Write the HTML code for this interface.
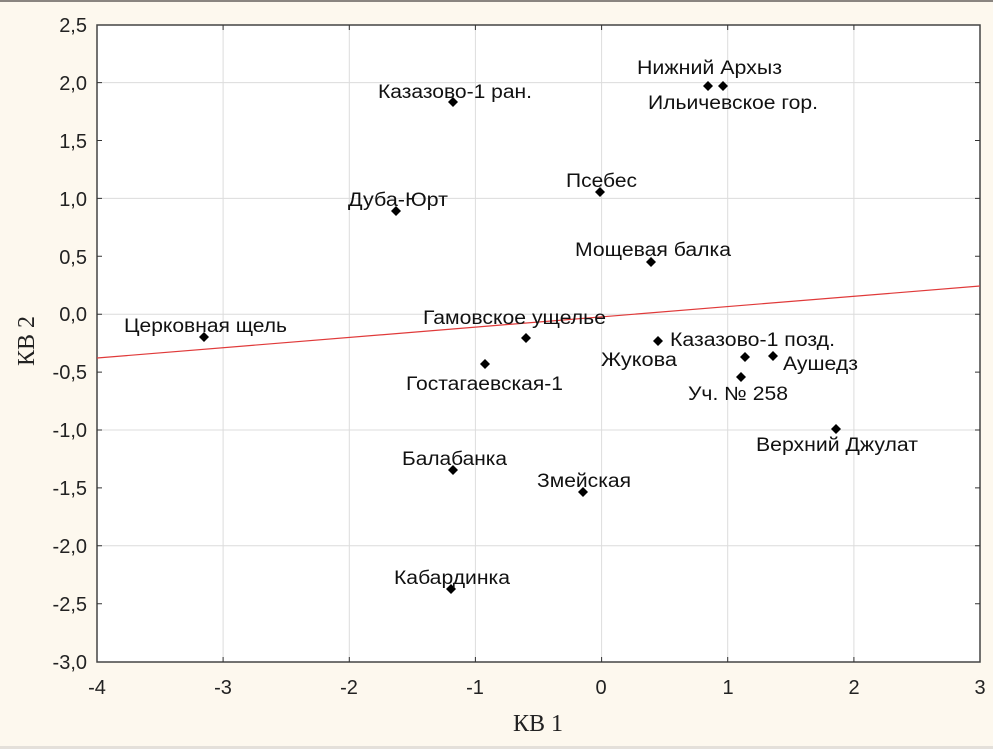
<!DOCTYPE html>
<html><head><meta charset="utf-8"><style>
html,body{margin:0;padding:0;background:#fdf8ee;}
svg{display:block;}
</style></head><body>
<svg width="993" height="749" xmlns="http://www.w3.org/2000/svg" font-family="Liberation Sans, sans-serif">
<rect x="0" y="0" width="993" height="749" fill="#fdf8ee"/>
<rect x="0" y="0" width="993" height="2" fill="#8a8580"/>
<rect x="0" y="746" width="993" height="3" fill="#e4e0da"/>
<rect x="97" y="25" width="883" height="637" fill="#fff"/>
<g stroke="#dcdcdc" stroke-width="1">
<line x1="97" x2="980" y1="82.6" y2="82.6"/><line x1="97" x2="980" y1="198.4" y2="198.4"/>
<line x1="97" x2="980" y1="314.2" y2="314.2"/><line x1="97" x2="980" y1="430" y2="430"/>
<line x1="97" x2="980" y1="545.8" y2="545.8"/>
<line y1="25" y2="662" x1="223.1" x2="223.1"/><line y1="25" y2="662" x1="349.3" x2="349.3"/>
<line y1="25" y2="662" x1="475.4" x2="475.4"/><line y1="25" y2="662" x1="601.6" x2="601.6"/>
<line y1="25" y2="662" x1="727.7" x2="727.7"/><line y1="25" y2="662" x1="853.9" x2="853.9"/>
</g>
<rect x="97" y="25" width="883" height="637" fill="none" stroke="#444" stroke-width="1.5"/>
<line x1="97" y1="358" x2="980" y2="286" stroke="#e03a3a" stroke-width="1.2"/>
<g fill="#222" font-size="20" text-anchor="end">
<text x="87" y="32">2,5</text><text x="87" y="90">2,0</text><text x="87" y="148">1,5</text>
<text x="87" y="206">1,0</text><text x="87" y="264">0,5</text><text x="87" y="321">0,0</text>
<text x="87" y="379">-0,5</text><text x="87" y="437">-1,0</text><text x="87" y="495">-1,5</text>
<text x="87" y="553">-2,0</text><text x="87" y="611">-2,5</text><text x="87" y="669">-3,0</text>
</g>
<g fill="#222" font-size="20" text-anchor="middle">
<text x="97" y="694">-4</text><text x="223" y="694">-3</text><text x="349" y="694">-2</text>
<text x="475" y="694">-1</text><text x="601" y="694">0</text><text x="728" y="694">1</text>
<text x="854" y="694">2</text><text x="980" y="694">3</text>
</g>
<text x="538" y="731" font-family="Liberation Serif, serif" font-size="24" text-anchor="middle" fill="#222">КВ 1</text>
<text transform="translate(34,341) rotate(-90)" font-family="Liberation Serif, serif" font-size="24" text-anchor="middle" fill="#222">КВ 2</text>
<g fill="#000">
<path d="M453 97l5 5-5 5-5-5z"/><path d="M708 81l5 5-5 5-5-5z"/><path d="M723 81l5 5-5 5-5-5z"/>
<path d="M600 187l5 5-5 5-5-5z"/><path d="M396 206l5 5-5 5-5-5z"/><path d="M651 257l5 5-5 5-5-5z"/>
<path d="M204 332l5 5-5 5-5-5z"/><path d="M526 333l5 5-5 5-5-5z"/><path d="M658 336l5 5-5 5-5-5z"/>
<path d="M485 359l5 5-5 5-5-5z"/><path d="M745 352l5 5-5 5-5-5z"/><path d="M773 351l5 5-5 5-5-5z"/>
<path d="M741 372l5 5-5 5-5-5z"/><path d="M836 424l5 5-5 5-5-5z"/><path d="M453 465l5 5-5 5-5-5z"/>
<path d="M583 487l5 5-5 5-5-5z"/><path d="M451 584l5 5-5 5-5-5z"/>
</g>
<g fill="#111" font-size="19">
<text x="378" y="98" textLength="154" lengthAdjust="spacingAndGlyphs">Казазово-1 ран.</text>
<text x="637" y="74" textLength="145" lengthAdjust="spacingAndGlyphs">Нижний Архыз</text>
<text x="648" y="109" textLength="170" lengthAdjust="spacingAndGlyphs">Ильичевское гор.</text>
<text x="566" y="187" textLength="71" lengthAdjust="spacingAndGlyphs">Псебес</text>
<text x="348" y="206" textLength="100" lengthAdjust="spacingAndGlyphs">Дуба-Юрт</text>
<text x="575" y="256" textLength="156" lengthAdjust="spacingAndGlyphs">Мощевая балка</text>
<text x="124" y="332" textLength="163" lengthAdjust="spacingAndGlyphs">Церковная щель</text>
<text x="423" y="324" textLength="183" lengthAdjust="spacingAndGlyphs">Гамовское ущелье</text>
<text x="670" y="346" textLength="165" lengthAdjust="spacingAndGlyphs">Казазово-1 позд.</text>
<text x="601" y="366" textLength="76" lengthAdjust="spacingAndGlyphs">Жукова</text>
<text x="783" y="370" textLength="75" lengthAdjust="spacingAndGlyphs">Аушедз</text>
<text x="406" y="390" textLength="157" lengthAdjust="spacingAndGlyphs">Гостагаевская-1</text>
<text x="688" y="400" textLength="100" lengthAdjust="spacingAndGlyphs">Уч. № 258</text>
<text x="756" y="451" textLength="162" lengthAdjust="spacingAndGlyphs">Верхний Джулат</text>
<text x="402" y="465" textLength="105" lengthAdjust="spacingAndGlyphs">Балабанка</text>
<text x="537" y="487" textLength="94" lengthAdjust="spacingAndGlyphs">Змейская</text>
<text x="394" y="584" textLength="116" lengthAdjust="spacingAndGlyphs">Кабардинка</text>
</g>
<g stroke="#333" stroke-width="1">
<path d="M223.1 662v-5M349.3 662v-5M475.4 662v-5M601.6 662v-5M727.7 662v-5M853.9 662v-5M223.1 25v5M349.3 25v5M475.4 25v5M601.6 25v5M727.7 25v5M853.9 25v5"/>
<path d="M97 82.6h5M97 140.5h5M97 198.4h5M97 256.3h5M97 314.2h5M97 372.1h5M97 430h5M97 487.9h5M97 545.8h5M97 603.7h5M980 82.6h-5M980 140.5h-5M980 198.4h-5M980 256.3h-5M980 314.2h-5M980 372.1h-5M980 430h-5M980 487.9h-5M980 545.8h-5M980 603.7h-5"/>
</g>
</svg>
</body></html>
